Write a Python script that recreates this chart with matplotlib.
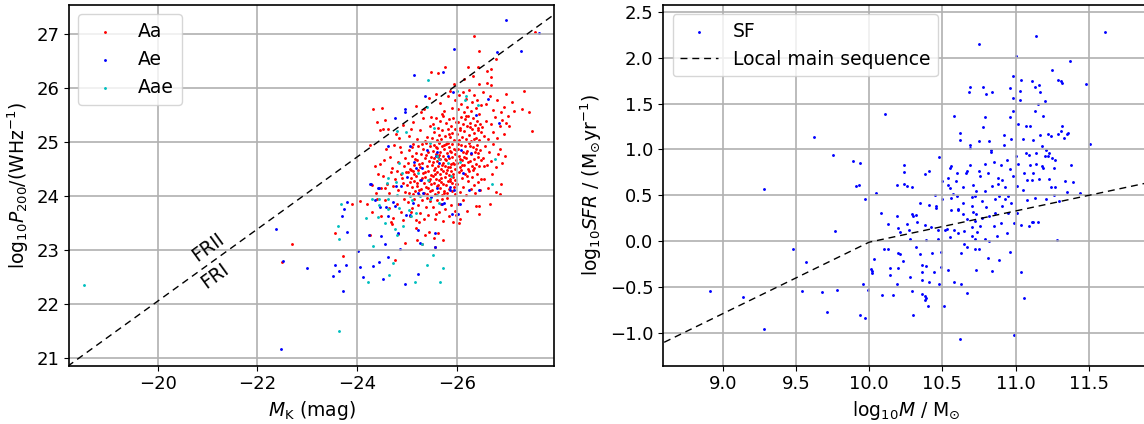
import matplotlib
matplotlib.use('Agg')
import matplotlib.pyplot as plt

# --- Left panel: radio power vs K-band magnitude ---
aa_pts = [
    (-24.32, 25.62), (-24.40, 25.38), (-24.45, 25.22), (-24.25, 24.95), (-24.45, 24.60), (-24.35, 24.55),
    (-24.42, 24.40), (-24.30, 24.20), (-24.48, 24.15), (-24.38, 24.05), (-24.05, 23.90), (-24.20, 23.85),
    (-24.40, 23.95), (-24.30, 23.70), (-24.47, 23.62), (-24.25, 23.27), (-23.55, 23.32), (-23.72, 22.88),
    (-23.90, 23.85), (-22.50, 22.77), (-22.70, 23.10), (-24.49, 25.64), (-24.52, 25.24),
    (-24.55, 25.41), (-24.85, 25.07), (-24.62, 25.25), (-24.92, 25.32), (-24.78, 25.15),
    (-24.58, 24.88), (-24.66, 24.72), (-24.74, 24.95), (-24.81, 24.63), (-24.89, 24.82), (-24.95, 24.55),
    (-24.70, 24.52), (-24.97, 24.70), (-24.53, 24.66), (-24.86, 24.91),
    (-24.52, 24.38), (-24.60, 24.22), (-24.68, 24.45), (-24.75, 24.31), (-24.82, 24.12), (-24.88, 24.40),
    (-24.93, 24.25), (-24.97, 24.08), (-24.64, 24.05), (-24.71, 24.18), (-24.79, 24.47), (-24.90, 24.33),
    (-24.56, 24.14), (-24.99, 24.44),
    (-24.55, 23.92), (-24.63, 23.78), (-24.72, 23.60), (-24.80, 23.85), (-24.88, 23.70), (-24.95, 23.95),
    (-24.68, 23.52), (-24.92, 23.56), (-24.70, 23.48), (-24.82, 23.30), (-24.96, 23.12), (-24.75, 22.82),
    (-25.48, 26.31), (-25.18, 25.67), (-25.35, 25.61), (-25.44, 25.82), (-25.28, 25.55),
    (-25.05, 25.12), (-25.12, 25.38), (-25.20, 25.05), (-25.26, 25.22), (-25.33, 25.44), (-25.40, 25.10),
    (-25.46, 25.30), (-25.09, 25.25), (-25.37, 25.02), (-25.48, 25.47),
    (-25.02, 24.62), (-25.04, 24.85), (-25.07, 24.51), (-25.10, 24.74), (-25.13, 24.96), (-25.15, 24.58),
    (-25.18, 24.80), (-25.21, 24.67), (-25.23, 24.92), (-25.26, 24.53), (-25.28, 24.77), (-25.31, 24.61),
    (-25.33, 24.88), (-25.36, 24.70), (-25.38, 24.99), (-25.41, 24.55), (-25.43, 24.82), (-25.45, 24.64),
    (-25.47, 24.93), (-25.49, 24.73), (-25.11, 24.90), (-25.24, 24.59), (-25.39, 24.76), (-25.16, 24.69),
    (-25.30, 24.97),
    (-25.01, 24.21), (-25.03, 24.44), (-25.05, 24.05), (-25.08, 24.33), (-25.10, 24.16), (-25.12, 24.47),
    (-25.14, 24.27), (-25.17, 24.09), (-25.19, 24.38), (-25.20, 24.19), (-25.22, 24.49), (-25.25, 24.02),
    (-25.27, 24.30), (-25.29, 24.13), (-25.32, 24.42), (-25.34, 24.24), (-25.35, 24.06), (-25.37, 24.35),
    (-25.39, 24.17), (-25.42, 24.46), (-25.44, 24.28), (-25.46, 24.10), (-25.48, 24.39), (-25.49, 24.22),
    (-25.06, 24.26), (-25.15, 24.41), (-25.24, 24.11), (-25.31, 24.33), (-25.40, 24.03), (-25.47, 24.31),
    (-25.09, 24.48), (-25.21, 24.25), (-25.36, 24.45), (-25.43, 24.14), (-25.13, 24.04),
    (-25.02, 23.88), (-25.06, 23.62), (-25.11, 23.77), (-25.15, 23.95), (-25.19, 23.55), (-25.23, 23.83),
    (-25.27, 23.68), (-25.31, 23.92), (-25.35, 23.58), (-25.39, 23.79), (-25.43, 23.65), (-25.47, 23.90),
    (-25.08, 23.71), (-25.25, 23.52), (-25.41, 23.97),
    (-25.19, 23.40), (-25.21, 23.19), (-25.36, 23.28), (-25.30, 23.10), (-25.45, 23.33),
    (-25.77, 26.40), (-25.95, 26.07), (-25.62, 26.28),
    (-25.58, 25.89), (-25.66, 25.72), (-25.74, 25.58), (-25.82, 25.85), (-25.90, 25.64), (-25.97, 25.78),
    (-25.70, 25.52), (-25.86, 25.95),
    (-25.51, 25.08), (-25.53, 25.33), (-25.55, 25.19), (-25.58, 25.45), (-25.60, 25.03), (-25.62, 25.27),
    (-25.64, 25.14), (-25.67, 25.39), (-25.69, 25.06), (-25.71, 25.22), (-25.73, 25.48), (-25.76, 25.11),
    (-25.78, 25.35), (-25.80, 25.01), (-25.82, 25.25), (-25.84, 25.42), (-25.87, 25.09), (-25.89, 25.30),
    (-25.91, 25.17), (-25.93, 25.44), (-25.95, 25.04), (-25.97, 25.24), (-25.99, 25.37), (-25.65, 25.01),
    (-25.85, 25.15),
    (-25.51, 24.58), (-25.52, 24.83), (-25.54, 24.71), (-25.55, 24.95), (-25.57, 24.52), (-25.58, 24.77),
    (-25.60, 24.64), (-25.61, 24.89), (-25.63, 24.55), (-25.64, 24.99), (-25.66, 24.68), (-25.67, 24.81),
    (-25.69, 24.50), (-25.70, 24.93), (-25.72, 24.61), (-25.73, 24.74), (-25.75, 24.87), (-25.76, 24.56),
    (-25.78, 24.97), (-25.79, 24.66), (-25.81, 24.79), (-25.82, 24.53), (-25.84, 24.91), (-25.85, 24.70),
    (-25.87, 24.84), (-25.88, 24.59), (-25.90, 24.96), (-25.91, 24.73), (-25.93, 24.62), (-25.94, 24.88),
    (-25.96, 24.51), (-25.97, 24.77), (-25.99, 24.67), (-25.53, 24.63), (-25.59, 24.91), (-25.65, 24.76),
    (-25.71, 24.57), (-25.77, 24.69), (-25.83, 24.98), (-25.89, 24.81), (-25.95, 24.60), (-25.62, 24.72),
    (-25.74, 24.94), (-25.86, 24.54), (-25.98, 24.86),
    (-25.51, 24.12), (-25.52, 24.37), (-25.54, 24.25), (-25.55, 24.48), (-25.57, 24.03), (-25.58, 24.31),
    (-25.60, 24.18), (-25.61, 24.44), (-25.63, 24.08), (-25.64, 24.29), (-25.66, 24.41), (-25.67, 24.15),
    (-25.69, 24.34), (-25.70, 24.01), (-25.72, 24.23), (-25.73, 24.47), (-25.75, 24.10), (-25.76, 24.36),
    (-25.78, 24.20), (-25.79, 24.43), (-25.81, 24.05), (-25.82, 24.27), (-25.84, 24.39), (-25.85, 24.13),
    (-25.87, 24.32), (-25.88, 24.46), (-25.90, 24.09), (-25.91, 24.24), (-25.93, 24.40), (-25.94, 24.17),
    (-25.96, 24.30), (-25.97, 24.04), (-25.99, 24.22), (-25.56, 24.40), (-25.68, 24.26), (-25.80, 24.49),
    (-25.92, 24.35), (-25.62, 24.21), (-25.74, 24.06), (-25.86, 24.28),
    (-25.52, 23.80), (-25.56, 23.58), (-25.60, 23.92), (-25.64, 23.70), (-25.68, 23.86), (-25.72, 23.54),
    (-25.76, 23.75), (-25.80, 23.96), (-25.84, 23.62), (-25.88, 23.83), (-25.92, 23.51), (-25.96, 23.72),
    (-25.99, 23.64), (-25.58, 23.66), (-25.70, 23.94),
    (-25.57, 23.05), (-25.73, 23.19), (-25.62, 23.31), (-25.54, 23.22),
    (-26.35, 26.97), (-26.44, 26.69),
    (-26.22, 26.40), (-26.42, 26.40), (-26.33, 26.23), (-26.15, 26.17), (-26.44, 26.07),
    (-26.02, 25.62), (-26.05, 25.88), (-26.08, 25.71), (-26.12, 25.93), (-26.15, 25.55), (-26.18, 25.80),
    (-26.21, 25.66), (-26.25, 25.96), (-26.28, 25.58), (-26.31, 25.74), (-26.35, 25.87), (-26.38, 25.63),
    (-26.41, 25.79), (-26.45, 25.52), (-26.48, 25.69),
    (-26.01, 25.15), (-26.03, 25.38), (-26.05, 25.04), (-26.07, 25.27), (-26.09, 25.46), (-26.11, 25.10),
    (-26.13, 25.33), (-26.15, 25.21), (-26.17, 25.42), (-26.19, 25.06), (-26.21, 25.29), (-26.23, 25.48),
    (-26.25, 25.13), (-26.27, 25.36), (-26.29, 25.02), (-26.31, 25.24), (-26.33, 25.45), (-26.35, 25.17),
    (-26.37, 25.31), (-26.39, 25.08), (-26.41, 25.40), (-26.43, 25.22), (-26.45, 25.03), (-26.47, 25.34),
    (-26.49, 25.19), (-26.06, 25.23), (-26.18, 25.49), (-26.26, 25.28), (-26.34, 25.05), (-26.42, 25.26),
    (-26.01, 24.61), (-26.02, 24.88), (-26.04, 24.74), (-26.06, 24.53), (-26.08, 24.95), (-26.10, 24.67),
    (-26.12, 24.81), (-26.14, 24.57), (-26.16, 24.92), (-26.18, 24.70), (-26.20, 24.84), (-26.22, 24.51),
    (-26.24, 24.99), (-26.26, 24.64), (-26.28, 24.77), (-26.30, 24.55), (-26.32, 24.90), (-26.34, 24.68),
    (-26.36, 24.82), (-26.38, 24.60), (-26.40, 24.94), (-26.42, 24.72), (-26.44, 24.56), (-26.46, 24.86),
    (-26.48, 24.66), (-26.03, 24.97), (-26.11, 24.58), (-26.19, 24.79), (-26.27, 24.93), (-26.35, 24.52),
    (-26.43, 24.79), (-26.07, 24.69), (-26.23, 24.63), (-26.39, 24.87), (-26.15, 24.73),
    (-26.01, 24.22), (-26.04, 24.45), (-26.07, 24.08), (-26.10, 24.33), (-26.13, 24.17), (-26.16, 24.41),
    (-26.19, 24.02), (-26.22, 24.28), (-26.25, 24.47), (-26.28, 24.13), (-26.31, 24.36), (-26.34, 24.21),
    (-26.37, 24.05), (-26.40, 24.40), (-26.43, 24.26), (-26.46, 24.11), (-26.49, 24.31), (-26.09, 24.49),
    (-26.20, 24.37), (-26.33, 24.48),
    (-26.02, 23.85), (-26.06, 23.58), (-26.12, 23.92), (-26.20, 23.73), (-26.38, 23.82), (-26.45, 23.66),
    (-26.05, 23.50),
    (-26.69, 26.35), (-26.69, 26.20), (-26.60, 26.09), (-26.68, 26.06), (-26.79, 26.54), (-26.61, 26.32),
    (-26.52, 25.93), (-26.58, 25.71), (-26.66, 25.85), (-26.73, 25.60), (-26.80, 25.78), (-26.88, 25.55),
    (-26.95, 25.66), (-26.98, 25.90),
    (-26.51, 25.28), (-26.55, 25.12), (-26.59, 25.40), (-26.63, 25.05), (-26.68, 25.34), (-26.72, 25.19),
    (-26.77, 25.46), (-26.81, 25.08), (-26.86, 25.29), (-26.90, 25.41), (-26.94, 25.15), (-26.98, 25.36),
    (-26.52, 24.70), (-26.56, 24.92), (-26.60, 24.58), (-26.64, 24.81), (-26.69, 24.65), (-26.73, 24.96),
    (-26.78, 24.53), (-26.83, 24.77), (-26.87, 24.88), (-26.91, 24.62), (-26.96, 24.74), (-26.54, 24.55),
    (-26.55, 24.32), (-26.62, 24.15), (-26.70, 24.40), (-26.79, 24.08), (-26.88, 24.22),
    (-26.67, 23.86), (-26.86, 24.03), (-26.44, 23.81),
    (-27.56, 27.04), (-27.35, 25.95), (-27.10, 25.75), (-27.30, 25.62), (-27.45, 25.55), (-27.50, 25.20),
    (-27.05, 25.30), (-27.15, 25.58), (-27.02, 25.48),
]

ae_pts = [
    (-26.98, 27.27), (-27.64, 27.03), (-27.29, 26.70), (-26.81, 26.68), (-25.95, 26.73), (-25.73, 26.30),
    (-25.15, 26.25), (-25.37, 25.85), (-25.93, 25.93), (-26.63, 25.80), (-26.39, 25.51), (-26.85, 25.36),
    (-24.96, 25.62), (-24.97, 25.56), (-24.76, 25.44), (-24.62, 24.92), (-25.06, 24.92), (-25.40, 24.85),
    (-25.58, 24.74), (-25.82, 24.74), (-25.30, 24.52), (-25.14, 24.63), (-25.29, 24.30), (-25.87, 24.17),
    (-25.95, 24.12), (-24.77, 24.18), (-24.42, 24.15), (-24.26, 24.22), (-24.89, 24.18), (-25.48, 23.98),
    (-25.70, 23.86), (-25.74, 23.87), (-25.06, 23.65), (-24.99, 23.64), (-25.23, 23.37), (-25.56, 23.31),
    (-24.47, 23.26), (-24.24, 23.27), (-24.56, 23.11), (-24.62, 23.62), (-24.75, 23.82), (-24.81, 23.32),
    (-23.80, 23.89), (-23.74, 23.76), (-23.69, 23.62), (-23.79, 23.33), (-24.02, 22.97), (-25.57, 23.05),
    (-26.06, 23.85), (-26.02, 23.66), (-25.90, 23.66), (-24.36, 23.93), (-24.45, 23.80), (-24.58, 23.80),
    (-24.71, 23.88), (-25.13, 23.87), (-25.86, 24.11), (-26.25, 24.12), (-26.29, 24.80), (-25.27, 23.13),
    (-24.87, 23.02), (-24.61, 22.86), (-24.44, 22.78), (-24.32, 22.70), (-24.06, 22.68), (-24.11, 22.50),
    (-24.52, 22.46), (-24.96, 22.37), (-25.23, 22.55), (-23.56, 22.72), (-23.63, 22.60), (-23.52, 22.51),
    (-23.77, 22.71), (-23.72, 22.24), (-22.99, 22.67), (-22.52, 22.79), (-22.38, 23.39), (-22.47, 21.16),
    (-25.19, 24.52), (-24.27, 24.23), (-25.22, 24.06), (-25.61, 24.15), (-26.12, 24.43), (-25.65, 24.62),
    (-25.00, 24.35), (-25.33, 24.05), (-24.43, 24.14), (-26.44, 24.12), (-25.61, 24.81), (-26.08, 24.86),
]

aae_pts = [
    (-18.53, 22.34), (-23.64, 21.50), (-25.43, 26.16), (-25.41, 25.66), (-24.79, 25.20), (-24.99, 25.19),
    (-25.54, 25.27), (-26.18, 25.85), (-26.17, 25.79), (-26.43, 25.68), (-24.85, 24.62), (-24.90, 24.43),
    (-24.61, 24.33), (-24.77, 24.26), (-24.59, 24.24), (-25.22, 24.43), (-25.43, 24.30), (-25.61, 24.74),
    (-25.64, 24.68), (-26.06, 24.63), (-25.88, 24.38), (-26.76, 24.68), (-26.71, 24.23), (-24.30, 23.95),
    (-24.43, 23.95), (-24.61, 23.95), (-24.79, 24.01), (-25.06, 24.00), (-25.11, 23.92), (-25.26, 24.00),
    (-25.47, 23.95), (-25.61, 24.02), (-25.65, 23.87), (-24.43, 23.84), (-24.62, 23.76), (-24.85, 23.78),
    (-25.04, 23.74), (-25.08, 23.63), (-25.19, 23.69), (-24.18, 23.59), (-24.41, 23.61), (-24.56, 23.49),
    (-24.75, 23.38), (-24.79, 23.28), (-24.92, 23.44), (-24.32, 23.08), (-24.72, 22.76), (-24.63, 22.54),
    (-24.22, 22.40), (-25.16, 22.41), (-25.40, 22.71), (-25.52, 22.91), (-25.73, 22.66), (-25.67, 22.40),
    (-25.31, 23.11), (-23.61, 23.45), (-23.63, 23.20), (-23.67, 23.85), (-26.01, 25.95), (-25.47, 24.98),
    (-25.82, 24.61),
]

# FRI / FRII dividing line (end points)
fr_mk = [-18.0, -28.0]
fr_logp = [20.71, 27.40]

# --- Right panel: SFR vs stellar mass ---
sf_pts = [
    (8.91, -0.54), (9.14, -0.61), (9.28, 0.57), (9.28, -0.95), (9.48, -0.08), (9.54, -0.54), (9.57, -0.23),
    (9.62, 1.14), (9.68, -0.55), (9.71, -0.77), (9.75, 0.94), (9.77, 0.11), (9.78, -0.53), (9.89, 0.87),
    (9.91, 0.60), (9.93, 0.61), (9.94, 0.85), (9.94, -0.80), (9.97, 0.46), (9.96, -0.47), (9.97, -0.84),
    (9.99, -0.53), (10.05, 0.53), (10.03, -0.19), (10.01, -0.30), (10.02, -0.32), (10.02, -0.35),
    (10.08, 0.31), (10.09, -0.59), (10.10, -0.08), (10.11, 1.39), (10.13, 0.19), (10.13, -0.08),
    (10.14, -0.29), (10.14, -0.37), (10.16, -0.59), (10.19, -0.46), (10.19, 0.61), (10.19, 0.27),
    (10.20, 0.14), (10.21, 0.10), (10.20, -0.13), (10.21, -0.14), (10.20, -0.29), (10.23, -0.21),
    (10.24, 0.83), (10.24, 0.75), (10.24, 0.62), (10.26, 0.60), (10.26, 0.19), (10.27, 0.12), (10.28, 0.03),
    (10.28, -0.39), (10.29, -0.54), (10.30, -0.80), (10.29, 0.30), (10.30, 0.27), (10.29, 0.59),
    (10.32, 0.29), (10.33, 0.21), (10.32, -0.06), (10.35, 0.42), (10.35, -0.14), (10.36, -0.26),
    (10.36, -0.34), (10.36, -0.42), (10.36, -0.57), (10.38, -0.60), (10.38, -0.64), (10.38, 0.73),
    (10.38, 0.18), (10.39, 0.01), (10.39, -0.27), (10.39, -0.62), (10.40, -0.71), (10.41, 0.76),
    (10.41, 0.39), (10.42, 0.15), (10.41, -0.44), (10.43, -0.13), (10.44, -0.33), (10.45, 0.50),
    (10.46, 0.38), (10.47, 0.12), (10.47, 0.03), (10.48, -0.47), (10.48, 0.92), (10.46, 0.36),
    (10.49, -0.28), (10.49, -0.12), (10.50, 0.66), (10.50, 0.46), (10.51, -0.70), (10.52, 0.12),
    (10.53, 0.13), (10.54, 0.61), (10.54, 0.69), (10.55, 0.80), (10.55, 0.05), (10.56, 0.82),
    (10.54, -0.31), (10.55, 0.58), (10.56, 0.47), (10.56, 0.34), (10.57, 0.51), (10.58, 1.36),
    (10.58, -0.44), (10.58, 0.12), (10.59, 0.66), (10.60, 0.74), (10.60, 0.49), (10.61, 0.35),
    (10.61, 0.09), (10.61, 0.34), (10.62, 1.18), (10.62, 1.10), (10.63, -0.13), (10.63, -0.47),
    (10.62, -1.06), (10.64, 0.59), (10.64, 0.42), (10.64, 0.30), (10.65, 0.11), (10.65, -0.03),
    (10.66, 0.74), (10.67, 0.76), (10.67, -0.06), (10.67, 0.24), (10.67, -0.56), (10.68, 1.63),
    (10.69, 1.68), (10.69, 1.05), (10.69, 1.02), (10.69, 0.83), (10.70, 0.48), (10.70, 0.38),
    (10.70, 0.15), (10.70, 0.06), (10.71, 0.32), (10.71, 0.61), (10.72, 0.49), (10.72, -0.08),
    (10.72, 0.22), (10.72, 0.02), (10.73, -0.31), (10.73, 0.55), (10.73, 0.30), (10.74, 0.10),
    (10.75, 0.77), (10.75, 2.15), (10.75, 1.09), (10.75, -0.08), (10.76, 0.71), (10.76, 0.17),
    (10.77, 0.44), (10.77, 0.25), (10.78, 1.68), (10.78, 1.24), (10.79, 1.35), (10.79, 0.55),
    (10.79, 0.84), (10.79, 0.02), (10.80, 0.37), (10.80, 1.60), (10.81, -0.18), (10.81, 0.74),
    (10.82, 1.09), (10.82, 0.00), (10.82, 0.28), (10.83, 0.99), (10.83, 0.97), (10.84, 1.62),
    (10.84, 0.60), (10.84, -0.32), (10.85, 0.17), (10.85, 0.86), (10.86, 0.46), (10.86, 0.31),
    (10.87, 0.06), (10.88, 0.69), (10.88, 0.62), (10.89, -0.20), (10.89, 0.49), (10.90, 0.20),
    (10.90, 0.83), (10.91, 0.67), (10.91, 0.38), (10.92, 1.16), (10.92, 1.05), (10.93, 0.59),
    (10.93, 0.46), (10.94, 0.09), (10.94, 0.88), (10.95, 0.49), (10.95, 0.31), (10.96, 1.67),
    (10.96, 1.35), (10.96, 0.79), (10.96, -0.12), (10.97, 0.42), (10.97, 1.11), (10.98, 1.80),
    (10.98, 1.56), (10.98, 1.42), (10.98, 0.71), (10.99, -1.02), (10.99, 0.20), (11.00, 2.02),
    (11.00, 0.93), (11.01, 0.60), (11.01, 0.31), (11.02, 1.28), (11.02, 0.84), (11.03, 1.54),
    (11.03, 1.64), (11.04, -0.33), (11.04, 1.76), (11.04, 0.18), (11.05, 1.11), (11.05, 0.56),
    (11.06, -0.62), (11.06, 0.74), (11.07, 0.96), (11.07, 1.25), (11.08, 0.67), (11.08, 0.45),
    (11.09, 0.17), (11.09, 0.94), (11.10, 0.83), (11.10, 1.26), (11.11, 0.21), (11.11, 0.67),
    (11.11, 1.75), (11.12, 1.10), (11.12, 0.74), (11.12, 0.21), (11.13, 1.42), (11.13, 0.47),
    (11.13, 1.68), (11.14, 2.23), (11.14, 0.84), (11.14, 0.96), (11.15, 0.21), (11.15, 1.49),
    (11.16, 1.70), (11.16, 0.68), (11.17, 1.62), (11.17, 1.16), (11.18, 1.04), (11.18, 0.82),
    (11.19, 1.36), (11.19, 0.80), (11.20, 1.53), (11.20, 0.93), (11.21, 0.99), (11.21, 0.46),
    (11.22, 1.17), (11.22, 0.93), (11.23, 0.68), (11.23, 0.96), (11.24, 0.59), (11.24, 1.15),
    (11.25, 1.87), (11.25, 0.91), (11.26, 0.80), (11.26, 0.50), (11.27, 0.88), (11.27, 0.59),
    (11.28, 0.01), (11.29, 1.76), (11.29, 1.17), (11.30, 0.44), (11.31, 1.20), (11.31, 1.74),
    (11.32, 1.25), (11.32, 1.72), (11.33, 1.12), (11.34, 0.66), (11.35, 0.54), (11.35, 1.17),
    (11.36, 1.18), (11.37, 1.96), (11.38, 0.83), (11.39, 0.65), (11.44, 0.53), (11.48, 1.71),
    (11.51, 1.06), (11.61, 2.28),
]

# local main sequence (broken line)
ms_logm = [8.6, 10.0, 12.0]
ms_logsfr = [-1.10, -0.01, 0.67]

plt.rcParams['font.size'] = 13.5
plt.rcParams['xtick.labelsize'] = 13
plt.rcParams['ytick.labelsize'] = 13
plt.rcParams['legend.fontsize'] = 13.5
plt.rcParams['axes.linewidth'] = 1.2

fig = plt.figure(figsize=(11.44, 4.24), dpi=100)
ax1 = fig.add_axes([0.0603, 0.1375, 0.4240, 0.8514])
ax2 = fig.add_axes([0.5798, 0.1375, 0.4240, 0.8514])

for pts, col, lab in [(aa_pts, 'red', 'Aa'), (ae_pts, 'blue', 'Ae'), (aae_pts, 'c', 'Aae')]:
    xs, ys = zip(*pts)
    ax1.scatter(xs, ys, s=2, c=col, linewidths=0.6, label=lab)
ax1.plot(fr_mk, fr_logp, color='k', ls=(0, (5, 3.5)), lw=1)
ax1.text(-21.0, 23.04, 'FRII', rotation=36, ha='center', va='center')
ax1.text(-21.14, 22.51, 'FRI', rotation=36, ha='center', va='center')
ax1.set_xlim(-18.22, -27.95)
ax1.set_ylim(20.85, 27.55)
ax1.set_xticks([-20, -22, -24, -26])
ax1.set_yticks([21, 22, 23, 24, 25, 26, 27])
ax1.set_xlabel(r'$M_\mathrm{K}$ (mag)')
ax1.set_ylabel(r'log$_{10}P_{200}$/(WHz$^{-1}$)')
ax1.grid(True, color='#b0b0b0', lw=1.2)
ax1.legend(loc='upper left')

sx, sy = zip(*sf_pts)
ax2.scatter(sx, sy, s=2, c='blue', linewidths=0.6, label='SF')
ax2.plot(ms_logm, ms_logsfr, color='k', ls=(0, (5, 3.5)), lw=1, label='Local main sequence')
ax2.set_xlim(8.594, 11.907)
ax2.set_ylim(-1.355, 2.576)
ax2.set_xticks([9.0, 9.5, 10.0, 10.5, 11.0, 11.5])
ax2.set_yticks([-1.0, -0.5, 0.0, 0.5, 1.0, 1.5, 2.0, 2.5])
ax2.set_xlabel(r'log$_{10}M$ / M$_{\odot}$')
ax2.set_ylabel(r'log$_{10}SFR$ / (M$_{\odot}$yr$^{-1}$)')
ax2.grid(True, color='#b0b0b0', lw=1.2)
ax2.legend(loc='upper left')

fig.savefig('out.png', dpi=100)
